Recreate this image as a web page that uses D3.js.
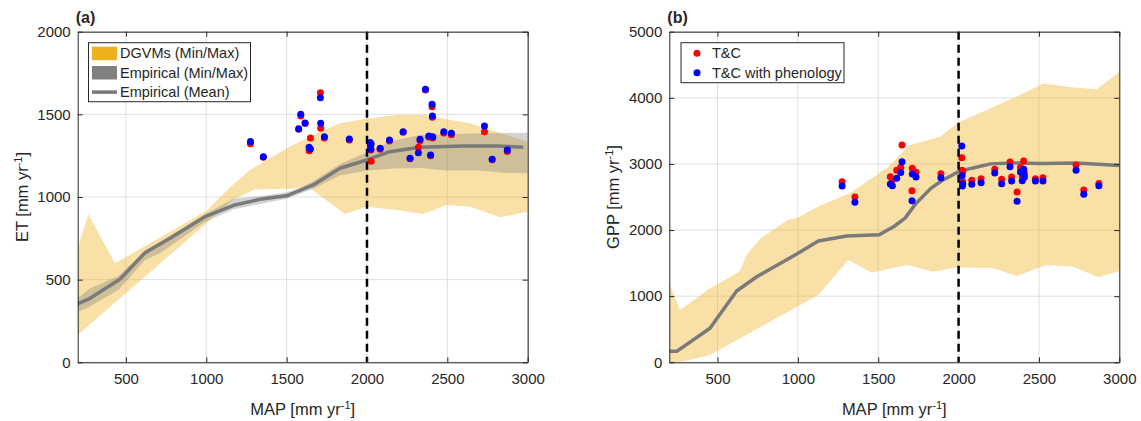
<!DOCTYPE html>
<html>
<head>
<meta charset="utf-8">
<script src="https://cdn.jsdelivr.net/npm/d3@7"></script>
<style>
body{margin:0;background:#fff}
svg text{font-family:"Liberation Sans",Arial,sans-serif;fill:#262626}
</style>
</head>
<body>
<script>
// sites: mean annual precipitation (mm/yr)
var siteMAP=[1275,1355,1575,1588,1615,1640,1648,1710,1712,1735,1890,2020,2022,2024,2026,2082,2140,2225,2268,2320,2330,2364,2385,2396,2405,2407,2409,2478,2525,2731,2779,2873]
// ET from T&C and T&C with phenology
var etTC=[1322,1240,1410,1490,1445,1280,1357,1630,1416,1357,1345,1320,1305,1285,1216,1289,1339,1391,1232,1301,1341,1648,1363,1250,1546,1482,1357,1387,1377,1395,1226,1276]
var etPheno=[1335,1244,1413,1500,1448,1301,1290,1601,1446,1365,1351,1329,1309,1289,1320,1295,1345,1395,1234,1268,1349,1652,1369,1254,1561,1490,1365,1395,1385,1430,1228,1284]
// GPP from T&C and T&C with phenology
var gppTC=[2731,2499,2806,2760,2903,2949,3286,2595,2933,2873,2853,3094,2903,2731,2880,2752,2777,2918,2767,3028,2802,2575,2948,2817,3044,2880,2850,2777,2792,2983,2605,2706]
var gppPheno=[2666,2419,2696,2670,2782,2872,3033,2443,2847,2803,2792,3270,2822,2666,2700,2691,2716,2862,2701,2958,2741,2434,2878,2746,2918,2833,2800,2741,2741,2903,2540,2670]

// envelopes as [MAP, value]
var etDgvmMax=[[200,691],[266,895],[432,599],[1000,915],[1150,1060],[1272,1163],[1500,1295],[1666,1375],[1832,1446],[1977,1470],[2185,1496],[2372,1496],[2496,1470],[2641,1446],[2807,1395],[3000,1335]]
var etDgvmMin=[[200,165],[1000,840],[1168,985],[1300,1045],[1500,1050],[1645,1053],[1863,897],[1998,941],[2185,921],[2350,897],[2496,952],[2641,941],[2828,877],[3000,911]]
var etEmpMax=[[200,387],[277,448],[453,520],[622,679],[712,730],[992,895],[1168,990],[1334,1005],[1500,1028],[1583,1053],[1666,1095],[1832,1200],[2000,1270],[2165,1340],[2330,1375],[2500,1380],[2700,1385],[3000,1389]]
var etEmpMin=[[200,306],[256,327],[453,437],[619,619],[712,660],[992,850],[1168,925],[1334,958],[1500,990],[1666,1050],[1832,1130],[2000,1160],[2165,1172],[2330,1175],[2500,1160],[2700,1160],[2850,1147],[3000,1143]]
var etEmpMean=[[200,353],[277,387],[463,502],[619,663],[775,750],[992,881],[1170,950],[1334,986],[1500,1007],[1666,1073],[1832,1174],[1998,1224],[2143,1274],[2330,1301],[2600,1309],[2807,1309],[2973,1301]]

var gppDgvmMax=[[200,1190],[267,791],[453,1119],[635,1370],[687,1648],[770,1875],[936,2152],[1000,2190],[1136,2367],[1323,2555],[1560,2950],[1690,3280],[1885,3410],[1990,3615],[2175,3817],[2360,4018],[2527,4218],[2700,4160],[2859,4128],[3000,4390]]
var gppDgvmMin=[[200,0],[300,20],[453,110],[1127,1018],[1314,1547],[1459,1355],[1677,1471],[1843,1370],[1988,1436],[2216,1421],[2362,1305],[2548,1471],[2714,1446],[2869,1285],[3000,1380]]
var gppEmpMean=[[200,166],[246,166],[453,514],[619,1078],[744,1294],[993,1637],[1127,1834],[1304,1910],[1506,1929],[1598,2054],[1667,2180],[1736,2407],[1829,2634],[1898,2749],[2002,2885],[2083,2936],[2198,3001],[2337,3016],[2522,3006],[2730,3016],[2868,2996],[3000,2976]]

var mapTicks=[500,1000,1500,2000,2500,3000]
var etTicks=[0,500,1000,1500,2000]
var gppTicks=[0,1000,2000,3000,4000,5000]

var screen={width:1141,height:421}
var svg=d3.select("body").append("svg")
          .attr("width",screen.width)
          .attr("height",screen.height)

var drawPanel=function(p){
  var width=450,height=330.6,top=31.7
  var g=svg.append("g").attr("transform","translate("+p.left+","+top+")")
  var xScale=d3.scaleLinear().domain([200,3000]).range([0,width])
  var yScale=d3.scaleLinear().domain([0,p.yTicks[p.yTicks.length-1]]).range([height,0])

  g.append("clipPath").attr("id","clip"+p.id)
   .append("rect").attr("width",width).attr("height",height)

  //grid
  var grid=g.append("g").attr("stroke","#dfdfdf").attr("stroke-width",1)
  grid.selectAll(".vx").data(mapTicks).enter().append("line")
      .attr("x1",function(d){return xScale(d)}).attr("x2",function(d){return xScale(d)})
      .attr("y1",0).attr("y2",height)
  grid.selectAll(".hy").data(p.yTicks).enter().append("line")
      .attr("x1",0).attr("x2",width)
      .attr("y1",function(d){return yScale(d)}).attr("y2",function(d){return yScale(d)})

  var plot=g.append("g").attr("clip-path","url(#clip"+p.id+")")
  var line=d3.line().x(function(d){return xScale(d[0])}).y(function(d){return yScale(d[1])})
  var band=function(up,low){return line(up.concat(low.slice().reverse()))+"Z"}

  plot.append("path").attr("d",band(p.dgvmMax,p.dgvmMin))
      .attr("fill","#EDB120").attr("fill-opacity",0.4)
  if(p.empMax){
    plot.append("path").attr("d",band(p.empMax,p.empMin))
        .attr("fill","#808080").attr("fill-opacity",0.35)
  }
  plot.append("path").attr("d",line(p.empMean))
      .attr("fill","none").attr("stroke","#7a7a7a").attr("stroke-width",3.5)
      .attr("stroke-linejoin","round")

  //dashed line at 2000
  g.append("line")
   .attr("x1",xScale(2000)).attr("x2",xScale(2000))
   .attr("y1",0).attr("y2",height)
   .attr("stroke","#000").attr("stroke-width",2.5).attr("stroke-dasharray","8,5")

  //sites
  plot.selectAll(".tc").data(siteMAP).enter().append("circle")
      .attr("cx",function(d){return xScale(d)})
      .attr("cy",function(d,i){return yScale(p.tc[i])})
      .attr("r",3.5).attr("fill","#ff0000")
  plot.selectAll(".ph").data(siteMAP).enter().append("circle")
      .attr("cx",function(d){return xScale(d)})
      .attr("cy",function(d,i){return yScale(p.pheno[i])})
      .attr("r",3.5).attr("fill","#0000ff")

  //axes
  var style=function(a){
    a.attr("color","#262626")
    a.selectAll("text").attr("font-size","15px").attr("font-family",null)
    a.select(".domain").attr("stroke-width",1)
  }
  var fmt=d3.format("d")
  g.append("g").attr("transform","translate(0,"+height+")")
   .call(d3.axisBottom(xScale).tickValues(mapTicks).tickFormat(fmt).tickSizeInner(-5).tickSizeOuter(0).tickPadding(11))
   .call(style)
  g.append("g")
   .call(d3.axisTop(xScale).tickValues(mapTicks).tickSizeInner(-5).tickSizeOuter(0).tickFormat(""))
   .call(style)
  g.append("g")
   .call(d3.axisLeft(yScale).tickValues(p.yTicks).tickFormat(fmt).tickSizeInner(-5).tickSizeOuter(0).tickPadding(7))
   .call(style)
  g.append("g").attr("transform","translate("+width+",0)")
   .call(d3.axisRight(yScale).tickValues(p.yTicks).tickSizeInner(-5).tickSizeOuter(0).tickFormat(""))
   .call(style)

  //labels
  var xl=g.append("text").attr("x",width/2).attr("y",415-top)
          .attr("text-anchor","middle").attr("font-size","16.5px")
  xl.append("tspan").text("MAP [mm yr")
  xl.append("tspan").attr("dy",-6).attr("font-size","11px").text("-1")
  xl.append("tspan").attr("dy",6).text("]")
  var yl=g.append("text").attr("transform","translate(-50,"+height/2+") rotate(-90)")
          .attr("text-anchor","middle").attr("font-size","16.5px")
  yl.append("tspan").text(p.yName+" [mm yr")
  yl.append("tspan").attr("dy",-6).attr("font-size","11px").text("-1")
  yl.append("tspan").attr("dy",6).text("]")
  g.append("text").attr("x",-2).attr("y",22.5-top)
   .attr("font-size","16px").attr("font-weight","bold").text(p.tag)

  return g
}

var ga=drawPanel({id:"a",left:77.7,tag:"(a)",yName:"ET",yTicks:etTicks,
  dgvmMax:etDgvmMax,dgvmMin:etDgvmMin,empMax:etEmpMax,empMin:etEmpMin,empMean:etEmpMean,
  tc:etTC,pheno:etPheno})
var gb=drawPanel({id:"b",left:669.3,tag:"(b)",yName:"GPP",yTicks:gppTicks,
  dgvmMax:gppDgvmMax,dgvmMin:gppDgvmMin,empMean:gppEmpMean,
  tc:gppTC,pheno:gppPheno})

//legend (a)
var legA=svg.append("g").attr("transform","translate(88.5,42.7)")
legA.append("rect").attr("width",162).attr("height",59).attr("fill","#fff").attr("stroke","#262626")
var legItems=["DGVMs (Min/Max)","Empirical (Min/Max)","Empirical (Mean)"]
legA.selectAll("text").data(legItems).enter().append("text")
    .attr("x",31.5).attr("y",function(d,i){return 10.6+i*19.4+5})
    .attr("font-size","14.5px").text(function(d){return d})
legA.append("rect").attr("x",3.5).attr("y",4).attr("width",25).attr("height",13.5).attr("fill","#EDB120")
legA.append("rect").attr("x",3.5).attr("y",23.3).attr("width",25).attr("height",13.5).attr("fill","#808080")
legA.append("line").attr("x1",3.5).attr("x2",28.5).attr("y1",49.4).attr("y2",49.4)
    .attr("stroke","#7a7a7a").attr("stroke-width",3.5)

//legend (b)
var legB=svg.append("g").attr("transform","translate(681,42.7)")
legB.append("rect").attr("width",163).attr("height",40).attr("fill","#fff").attr("stroke","#262626")
legB.selectAll("text").data(["T&C","T&C with phenology"]).enter().append("text")
    .attr("x",31).attr("y",function(d,i){return 10.6+i*19.4+5})
    .attr("font-size","14.5px").text(function(d){return d})
legB.selectAll("circle").data(["#ff0000","#0000ff"]).enter().append("circle")
    .attr("cx",16).attr("cy",function(d,i){return 10.6+i*19.4})
    .attr("r",3.5).attr("fill",function(d){return d})
</script>
</body>
</html>
